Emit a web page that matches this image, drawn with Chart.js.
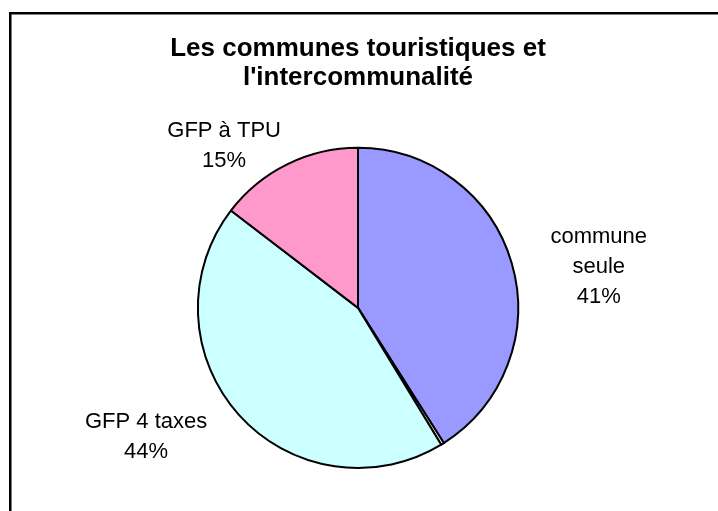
<!DOCTYPE html>
<html>
<head>
<meta charset="utf-8">
<script src="https://cdn.jsdelivr.net/npm/chart.js@4/dist/chart.umd.min.js"></script>
<style>
  html, body { margin: 0; padding: 0; background: #fff; }
  canvas { display: block; }
</style>
</head>
<body>
<canvas id="pieChart" width="718" height="511"></canvas>
<script>
const titleLines = ['Les communes touristiques et', "l'intercommunalité"];
const categories = ['commune seule', 'autre', 'GFP 4 taxes', 'GFP à TPU'];
const labelLines = [['commune', 'seule'], [], ['GFP 4 taxes'], ['GFP à TPU']];
const shares = [41.0, 0.3, 44.1, 14.6];
const colors = ['#9999ff', '#ffffff', '#ccffff', '#ff99cc'];

// excel-like frame, only left and top edges are visible
const framePlugin = {
    id: 'frame',
    beforeDraw(chart) {
        const ctx = chart.ctx
        ctx.save()
        ctx.fillStyle = '#000'
        ctx.fillRect(9, 12, chart.width, 2.5)
        ctx.fillRect(9, 12, 2.5, chart.height)
        ctx.restore()
    }
}

// labels outside the slices, moved a bit like excel does
const sliceLabels = {
    id: 'sliceLabels',
    afterDatasetsDraw(chart, args, opts) {
        const ctx = chart.ctx
        const meta = chart.getDatasetMeta(0)
        const total = shares.reduce((a, b) => a + b, 0)
        ctx.save()
        ctx.font = opts.font
        ctx.fillStyle = '#000'
        ctx.textAlign = 'center'
        ctx.textBaseline = 'middle'
        meta.data.forEach((arc, i) => {
            if (!labelLines[i].length) return
            const {x, y, startAngle, endAngle, outerRadius} = arc.getProps(['x', 'y', 'startAngle', 'endAngle', 'outerRadius'], true)
            const [shift, extra] = opts.nudge[i]
            const a = (startAngle + endAngle) / 2 + shift * Math.PI / 180
            const d = outerRadius + extra
            const lines = [...labelLines[i], Math.round(shares[i] / total * 100) + '%']
            const cx = x + Math.cos(a) * d
            const cy = y + Math.sin(a) * d
            lines.forEach((t, k) => {
                ctx.fillText(t, cx, cy + (k - (lines.length - 1) / 2) * opts.lineHeight)
            })
        })
        ctx.restore()
    }
}

new Chart(document.getElementById('pieChart'), {
    type: 'pie',
    data: {
        labels: categories,
        datasets: [{
            data: shares,
            backgroundColor: colors,
            borderColor: '#000',
            borderWidth: 2,
            borderAlign: 'center'
        }]
    },
    options: {
        responsive: false,
        animation: false,
        layout: {
            // wide chart area so the height sets the radius and the title is not squeezed
            padding: {top: 14, bottom: 42, left: 0, right: 2}
        },
        plugins: {
            legend: {display: false},
            tooltip: {enabled: false},
            title: {
                display: true,
                text: titleLines,
                color: '#000',
                font: {family: '"Liberation Sans", Arial, sans-serif', size: 26, weight: 'bold', lineHeight: 1.13},
                padding: {top: 20, bottom: 54}
            },
            sliceLabels: {
                font: '22px "Liberation Sans", Arial, sans-serif',
                lineHeight: 30,
                nudge: [[6.6, 84], [0, 0], [10.6, 88], [-13.3, 50]]
            }
        }
    },
    plugins: [framePlugin, sliceLabels]
});
</script>
</body>
</html>
